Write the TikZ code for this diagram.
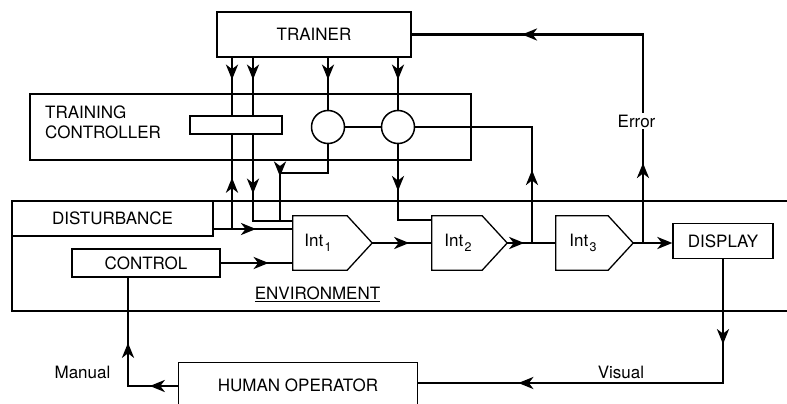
\documentclass[tikz,border=0pt]{standalone}
\usepackage{fontspec}
\setmainfont{TeX Gyre Heros}
\usetikzlibrary{arrows.meta,decorations.markings,calc}
\newcommand\intsub[1]{\kern1.5pt\raisebox{-4.5pt}{\fontsize{12.5}{12.5}\selectfont #1}}
\tikzset{
  frame/.style={line width=1.3pt},
  box/.style={draw, line width=1.3pt, inner sep=0pt, fill=white, font=\fontsize{17}{20}\selectfont},
  lbl/.style={font=\fontsize{17}{20}\selectfont, inner sep=1pt},
  conn/.style={line width=2.9pt},
  tipat/.style={postaction={decorate,decoration={markings,mark=at position #1 with {\arrow{Stealth[length=15pt,width=12pt,inset=4.5pt]}}}}},
  rtipat/.style={postaction={decorate,decoration={markings,mark=at position #1 with {\arrowreversed{Stealth[length=15pt,width=12pt,inset=4.5pt]}}}}},
  endtip/.style={-{Stealth[length=15pt,width=12pt,inset=4.5pt]}},
  ring/.style={circle, draw, line width=1.5pt, fill=white, minimum size=33pt, inner sep=0pt},
  intnode/.style={inner sep=0pt, minimum height=54pt},
}
\begin{document}
\begin{tikzpicture}[x=1pt,y=-1pt]
\useasboundingbox (0,0) rectangle (787,404);

% environment frame (open on the right)
\draw[frame] (787,201) -- (12,201) -- (12,311) -- (787,311);
% training controller frame
\node[draw, line width=1.3pt, minimum width=441pt, minimum height=66pt, inner sep=0pt] (tc) at (250.5,127) {};
\node[lbl, anchor=west, align=left, font=\fontsize{17}{20.5}\selectfont] (tctext) at (44,122.5) {TRAINING\\CONTROLLER};

% nodes
\node[box, minimum width=194pt, minimum height=45pt] (trainer) at (314,34.5) {TRAINER};
\node[box, minimum width=201pt, minimum height=35pt] (dist) at (112.5,218.5) {DISTURBANCE};
\node[box, minimum width=148pt, minimum height=28pt] (ctrl) at (146,263) {CONTROL};
\node[box, minimum width=100pt, minimum height=35pt] (display) at (723,241) {DISPLAY};
\node[inner sep=0pt, minimum width=238pt, minimum height=44pt, font=\fontsize{17}{20}\selectfont] (human) at (298,385) {HUMAN OPERATOR};
\draw[frame] (human.south west) -- (human.north west) -- (human.north east) -- (human.south east);

\node[intnode, minimum width=79pt] (i1) at (332.5,243) {};
\node[intnode, minimum width=75pt] (i2) at (469.5,243) {};
\node[intnode, minimum width=77pt] (i3) at (594.5,243) {};

% junction columns / rows
\coordinate (cA) at (232,0);
\coordinate (cB) at (253,0);
\coordinate (dj) at (213,229);
\coordinate (j2) at (0,221);
\coordinate (k) at (280,173);
\coordinate (j7) at (0,220);
\coordinate (cE) at (532,0);
\coordinate (cF) at (643,0);
\coordinate (hv) at (0,383);
\coordinate (hm) at (0,386);
\coordinate (cH) at (128,0);

\coordinate (c1p) at (328,127);
\coordinate (c2p) at (398,127);

% connectors
\draw[conn, tipat=22pt, rtipat=120pt] (cA |- trainer.south) -- (cA |- dj);
\draw[conn, tipat=43pt] (dj) -- (i1.west |- dj);
\draw[conn, tipat=22pt, tipat=136pt] (cB |- trainer.south) -- (cB |- j2) -- (i1.west |- j2);
\draw[conn, tipat=22pt] (c1p |- trainer.south) -- (c1p);
\draw[conn, tipat=22pt] (c2p |- trainer.south) -- (c2p);
\draw[conn, tipat=97.5pt] (c1p) -- (c1p |- k) -- (k) -- (k |- j2);
\draw[conn, tipat=64pt] (c2p) -- (c2p |- j7) -- (i2.west |- j7);
\draw[conn, tipat=73pt] (cE |- i2.east) -- (cE |- c2p) -- (c2p);
\draw[conn] (c1p) -- (c2p);
\draw[conn, tipat=48pt] (ctrl.east) -- (i1.west |- ctrl.east);
\draw[conn, tipat=37pt] (i1.east) -- (i2.west);
\draw[conn, tipat=17pt] (i2.east) -- (i3.west);
\draw[conn, endtip] (i3.east) -- (display.west |- i3.east);
\draw[conn, tipat=80pt, tipat=329.5pt] (cF |- i3.east) -- (cF |- trainer.east) -- (trainer.east);
\draw[conn, tipat=85pt, tipat=328.5pt] (display.south) -- (display.south |- hv) -- (human.east |- hv);
\draw[conn, tipat=29pt, tipat=94pt] (human.west |- hm) -- (cH |- hm) -- (cH |- ctrl.south);

% boxes drawn over connectors
\node[box, minimum width=92pt, minimum height=18pt] (tcin) at (236,125) {};
\node[ring] (c1) at (c1p) {};
\node[ring] (c2) at (c2p) {};
\draw[conn] (c1.east) -- (c2.west);

% integrator shapes
\foreach \n in {i1,i2,i3}{
  \draw[line width=1.3pt, fill=white] (\n.north west) -- ($(\n.north east)+(-25,0)$) -- (\n.east) -- ($(\n.south east)+(-25,0)$) -- (\n.south west) -- cycle;
}
\node[lbl] (l1) at (318,243) {Int\intsub{1}};
\node[lbl] (l2) at (458,243) {Int\intsub{2}};
\node[lbl] (l3) at (583,243) {Int\intsub{3}};

% labels
\node[lbl, fill=white, inner sep=2pt] (err) at (636.5,121) {Error};
\node[lbl] (vis) at (621,372) {Visual};
\node[lbl] (man) at (82.5,372) {Manual};
\node[lbl] (envl) at (317.5,294) {\underline{ENVIRONMENT}};
\end{tikzpicture}
\end{document}
